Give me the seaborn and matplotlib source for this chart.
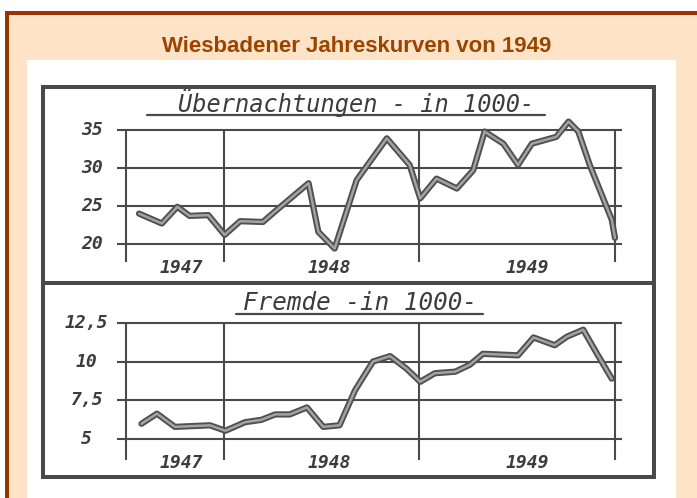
import matplotlib
matplotlib.use('Agg')
import matplotlib.pyplot as plt
import matplotlib.patheffects as pe
from matplotlib.patches import Rectangle
from matplotlib.colors import to_rgb
import numpy as np
import pandas as pd
import seaborn as sns

################################################################################
# data (months counted from July 1947 = 0 to end of 1949 = 30)

stays_month = [0.8, 2.2, 3.15, 3.9, 5.05, 6.05, 7.0, 8.4, 9.15, 11.2, 11.8,
               12.8, 14.15, 16.0, 17.4, 18.05, 19.05, 20.3, 21.3, 22.0, 23.15,
               24.05, 24.9, 26.4, 27.15, 27.75, 28.45, 29.8, 30.0]
stays = [24.0, 22.7, 24.9, 23.7, 23.8, 21.2, 23.0, 22.9, 24.3, 28.0, 21.6,
         19.4, 28.4, 33.9, 30.4, 26.0, 28.6, 27.3, 29.7, 34.8, 33.2,
         30.4, 33.2, 34.1, 36.1, 34.8, 30.4, 23.2, 20.8]

guests_month = [0.95, 1.9, 3.0, 5.15, 6.1, 7.3, 8.3, 9.15, 10.05, 11.1, 12.1,
                13.1, 14.05, 15.15, 16.2, 17.2, 18.05, 18.95, 20.2, 21.1,
                21.9, 24.05, 25.0, 26.3, 27.05, 28.05, 28.9, 29.8]
guests = [6.0, 6.65, 5.8, 5.9, 5.55, 6.1, 6.25, 6.6, 6.6, 7.05, 5.8,
          5.9, 8.15, 10.0, 10.35, 9.55, 8.7, 9.25, 9.35, 9.8,
          10.5, 10.4, 11.55, 11.05, 11.6, 12.05, 10.5, 8.9]

years = ['1947', '1948', '1949']
year_edges = [0, 6, 18, 30]
year_label_x = [3.4, 12.5, 24.6]

stays_ticks = [20, 25, 30, 35]
stays_labels = ['20', '25', '30', '35']
guests_ticks = [5, 7.5, 10, 12.5]
guests_labels = ['5', '7,5', '10', '12,5']

page_title = 'Wiesbadener Jahreskurven von 1949'
stays_title = 'Übernachtungen - in 1000-'
guests_title = 'Fremde -in 1000-'

################################################################################

sns.set_theme(style='white')
plt.rcParams['font.family'] = ['DejaVu Sans']

W, H = 697, 498
BROWN = '#993300'
PEACH = '#fee3c7'
INK = '#4a4a4a'
HAND = dict(family='DejaVu Sans Mono', style='italic', color='#3c3c3c')

fig = plt.figure(figsize=(W / 100, H / 100), dpi=100)
fig.patch.set_facecolor('white')

# page decoration, drawn in pixel coordinates
bg = fig.add_axes([0, 0, 1, 1])
bg.axis('off')
bg.add_patch(Rectangle((5, 11), W, H, facecolor=PEACH, edgecolor='none'))
bg.add_patch(Rectangle((5, 11), W, 4, facecolor=BROWN, edgecolor='none'))
bg.add_patch(Rectangle((5, 11), 4, H, facecolor=BROWN, edgecolor='none'))
bg.add_patch(Rectangle((27, 60), 649, H, facecolor='white', edgecolor='none'))

# title band: peach -> white -> peach
t = np.linspace(0, 1, 80)
stops_t = [0, 0.5, 0.7, 1]
peach, white = np.array(to_rgb(PEACH)), np.ones(3)
stops_c = [peach, white, white, peach]
grad = np.stack([np.interp(t, stops_t, [c[i] for c in stops_c]) for i in range(3)], axis=-1)
bg.imshow(grad[:, None, :], extent=(32, 682, 67, 16), aspect='auto', origin='upper')
bg.set_xlim(0, W)
bg.set_ylim(H, 0)

bg.text(357, 51.7, page_title, ha='center', va='baseline', color='#9a4400',
        fontsize=16, weight='bold', family='Liberation Sans')

# hand drawn frame of the scanned chart
bg.add_patch(Rectangle((43, 87), 611, 390, fill=False, edgecolor=INK, lw=2.9))
bg.plot([43, 654], [283, 283], color=INK, lw=2.9)

# panel titles with underline
bg.text(356, 112, stays_title, ha='center', va='baseline', fontsize=17, **HAND)
bg.plot([147, 545], [114.5, 114.5], color=INK, lw=1.6)
bg.text(360, 310, guests_title, ha='center', va='baseline', fontsize=17.5, **HAND)
bg.plot([236, 483], [313.5, 313.5], color=INK, lw=1.6)


def add_panel(ylim, top, bottom):
    left, right = 109.7, 631.3
    ax = fig.add_axes([left / W, 1 - bottom / H, (right - left) / W, (bottom - top) / H])
    ax.set_xlim(-1, 31)
    ax.set_ylim(ylim)
    ax.patch.set_alpha(0)
    ax.axis('off')
    return ax


def draw_panel(ax, months, values, ticks, labels, label_x, year_y):
    y0 = ax.get_ylim()[0]
    ax.hlines(ticks, -0.55, 30.4, color=INK, lw=1.5)
    ax.vlines(year_edges, y0, ticks[-1], color=INK, lw=1.5)

    df = pd.DataFrame({'month': months, 'value': values})
    sns.lineplot(data=df, x='month', y='value', ax=ax, sort=False,
                 color='#a3a3a3', lw=1.8, clip_on=False,
                 solid_joinstyle='round', solid_capstyle='round',
                 path_effects=[pe.Stroke(linewidth=4.5, foreground='#4f4f4f'), pe.Normal()])
    ax.axis('off')

    for tk, lab in zip(ticks, labels):
        ax.text(label_x, tk, lab, ha='center', va='center', fontsize=13,
                weight='bold', **HAND)
    for x, yr in zip(year_label_x, years):
        ax.text(x, year_y, yr, ha='center', va='center', fontsize=13,
                weight='bold', **HAND)


ax_top = add_panel((17.6, 36.6), 117.84, 262.24)
draw_panel(ax_top, stays_month, stays, stays_ticks, stays_labels, -2.1, 16.9)

ax_bot = add_panel((3.65, 13.3), 310.26, 460.29)
draw_panel(ax_bot, guests_month, guests, guests_ticks, guests_labels, -2.45, 3.5)

fig.savefig('out.png', dpi=100, facecolor='white')
